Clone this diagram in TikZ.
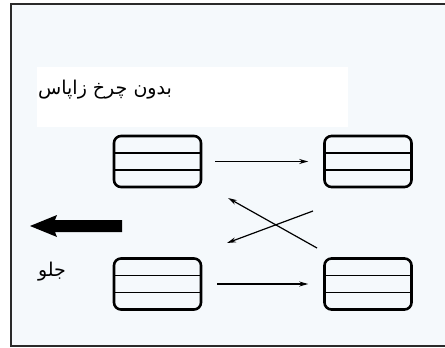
\documentclass[tikz,border=0pt]{standalone}
\usepackage{fontspec}
\newfontfamily\arabicfont[Script=Arabic]{DejaVu Sans}
\TeXXeTstate=1
\usetikzlibrary{arrows.meta}
\definecolor{bgblue}{HTML}{F5F9FC}
\definecolor{framec}{HTML}{2A2A2A}
\tikzset{
  tire/.style={draw=black, line width=2.6pt, rounded corners=7pt, minimum width=87pt, minimum height=51pt, inner sep=0pt,
    path picture={\draw[line width=1.6pt] ([yshift=-17pt]path picture bounding box.north west) -- ([yshift=-17pt]path picture bounding box.north east);
                  \draw[line width=1.6pt] ([yshift=17pt]path picture bounding box.south west) -- ([yshift=17pt]path picture bounding box.south east);}},
  conn/.style={line width=1.2pt, -{Stealth[length=9pt,width=5pt]}},
  lbl/.style={font=\arabicfont\fontsize{19}{22}\selectfont, inner sep=0pt}
}
\begin{document}
\begin{tikzpicture}[x=1pt,y=-1pt]
\useasboundingbox (0,0) rectangle (445,348);
\fill[white] (0,0) rectangle (445,348);
\fill[bgblue] (11,4) rectangle (445,346);
\draw[framec, line width=2.4pt] (445,4) -- (11,4) -- (11,346) -- (445,346);
\fill[white] (37,67) rectangle (348,127);
\node[lbl, anchor=west] (title) at (38,90) {\beginR بدون چرخ زاپاس\endR};
\node[tire] (tl) at (157.5,161.5) {};
\node[tire] (tr) at (368,161.5) {};
\node[tire] (bl) at (157.5,284) {};
\node[tire] (br) at (368,284) {};
\draw[conn, shorten <=13pt, shorten >=15pt] (tl.east) -- (tr.west);
\draw[conn, shorten <=15pt, shorten >=15pt] (bl.east) -- (br.west);
\coordinate (c1s) at (317,248);
\coordinate (c1e) at (228,198);
\coordinate (c2s) at (313,211);
\coordinate (c2e) at (227,243);
\draw[conn] (c1s) -- (c1e);
\draw[conn] (c2s) -- (c2e);
\fill[black] (122,220) -- (55,220) -- (57,215) -- (30,226) -- (57,237) -- (55,232) -- (122,232) -- cycle;
\node[lbl, anchor=center] (front) at (52,272) {\beginR جلو\endR};
\end{tikzpicture}
\end{document}
